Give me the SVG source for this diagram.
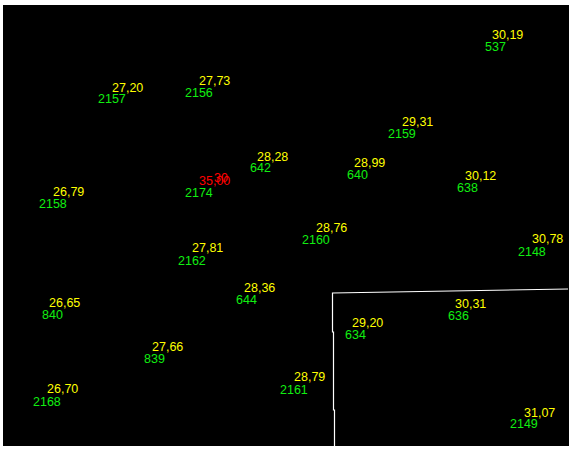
<svg xmlns="http://www.w3.org/2000/svg" width="574" height="453" viewBox="0 0 574 453">
<style>
text{font-family:"Liberation Sans",Arial,sans-serif;font-size:12.5px}
.y{fill:#ffff00}.g{fill:#11ee11}.r{fill:#ff0000}
.ln{stroke:#ffffff;stroke-width:1.2;fill:none}
</style>
<rect width="574" height="453" fill="#ffffff"/>
<rect x="3" y="5" width="566" height="441" fill="#000000"/>
<g id="connectors">
<polyline class="ln" points="334.5,446 334.5,410 333.5,410 333.5,332 332.5,332 332.5,293 568,289"/>
</g>
<g id="n1"><text class="y" x="112" y="92">27,20</text><text class="g" x="98" y="103">2157</text></g>
<g id="n2"><text class="y" x="199" y="85">27,73</text><text class="g" x="185" y="97">2156</text></g>
<g id="n3"><text class="y" x="492" y="39">30,19</text><text class="g" x="485" y="51">537</text></g>
<g id="n4"><text class="y" x="402" y="126">29,31</text><text class="g" x="388" y="138">2159</text></g>
<g id="n5"><text class="y" x="257" y="161">28,28</text><text class="g" x="250" y="172">642</text></g>
<g id="n6"><text class="y" x="354" y="167">28,99</text><text class="g" x="347" y="179">640</text></g>
<g id="n7"><text class="y" x="316" y="232">28,76</text><text class="g" x="302" y="244">2160</text></g>
<g id="n8"><text class="y" x="465" y="180">30,12</text><text class="g" x="457" y="192">638</text></g>
<g id="n9"><text class="y" x="532" y="243">30,78</text><text class="g" x="518" y="256">2148</text></g>
<g id="n10"><text class="y" x="53" y="196">26,79</text><text class="g" x="39" y="208">2158</text></g>
<g id="n11"><text class="y" x="49" y="307">26,65</text><text class="g" x="42" y="319">840</text></g>
<g id="n12"><text class="y" x="47" y="393">26,70</text><text class="g" x="33" y="406">2168</text></g>
<g id="n13"><text class="y" x="192" y="252">27,81</text><text class="g" x="178" y="265">2162</text></g>
<g id="n14"><text class="y" x="244" y="292">28,36</text><text class="g" x="236" y="304">644</text></g>
<g id="n15"><text class="y" x="152" y="351">27,66</text><text class="g" x="144" y="363">839</text></g>
<g id="n16"><text class="y" x="294" y="381">28,79</text><text class="g" x="280" y="394">2161</text></g>
<g id="n17"><text class="y" x="352" y="327">29,20</text><text class="g" x="345" y="339">634</text></g>
<g id="n18"><text class="y" x="455" y="308">30,31</text><text class="g" x="448" y="320">636</text></g>
<g id="n19"><text class="y" x="524" y="417">31,07</text><text class="g" x="510" y="428">2149</text></g>
<g id="n20"><text class="r" x="199" y="185">35,00</text><text class="r" x="214" y="182">30</text><text class="g" x="185" y="197">2174</text></g>
</svg>
